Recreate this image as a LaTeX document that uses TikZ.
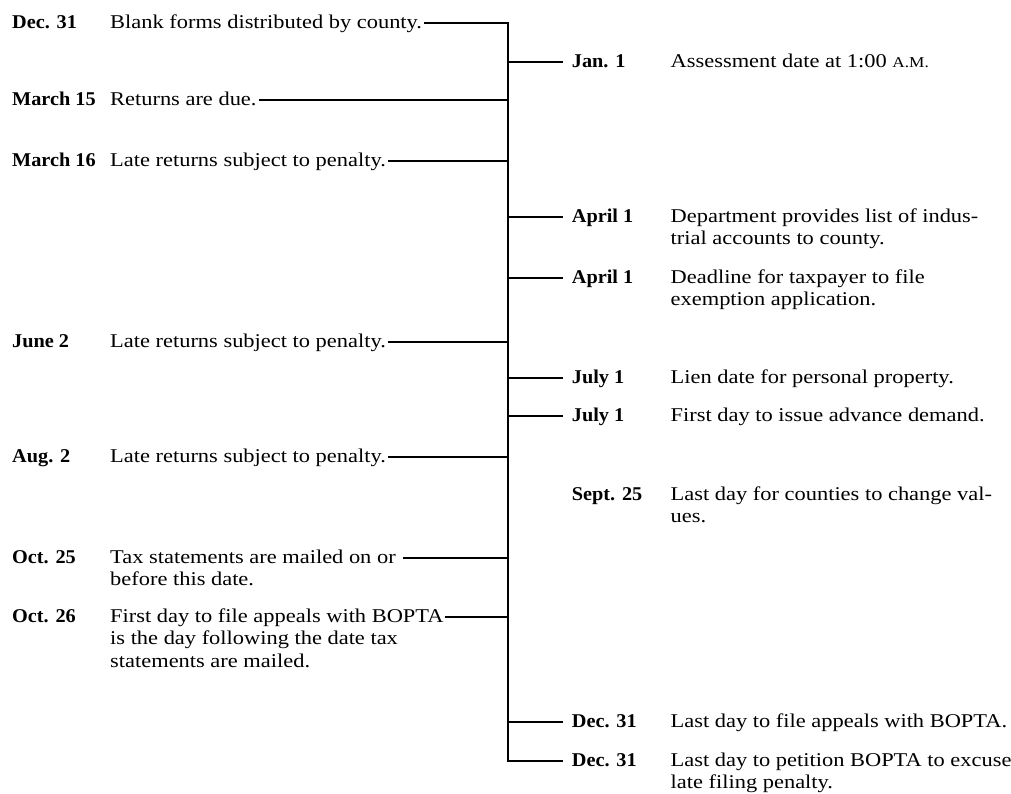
\documentclass[tikz,border=0pt]{standalone}
\usepackage{fontspec}
\setmainfont[FakeStretch=1.15]{Liberation Serif}
\newfontfamily\datefont[FakeStretch=1.04]{Liberation Serif}
\begin{document}
\begin{tikzpicture}[x=1pt,y=-1pt,
  txt/.style={anchor=west,inner sep=0pt,text height=14pt,text depth=4pt,font=\fontsize{19.5}{22.5}\selectfont},
  dt/.style={txt,font=\datefont\fontsize{19.5}{22.5}\selectfont\bfseries},
  conn/.style={line width=1.8pt,black}]
\useasboundingbox (0,0) rectangle (1011,793);
% left dates and texts
\node[dt]  (l1d) at (12,23) {Dec. 31};
\node[txt] (l1t) at (110,23) {Blank forms distributed by county.};
\node[dt]  (l2d) at (12,100) {March 15};
\node[txt] (l2t) at (110,100) {Returns are due.};
\node[dt]  (l3d) at (12,161) {March 16};
\node[txt] (l3t) at (110,161) {Late returns subject to penalty.};
\node[dt]  (l4d) at (12,342) {June 2};
\node[txt] (l4t) at (110,342) {Late returns subject to penalty.};
\node[dt]  (l5d) at (12,457) {Aug. 2};
\node[txt] (l5t) at (110,457) {Late returns subject to penalty.};
\node[dt]  (l6d) at (12,558) {Oct. 25};
\node[txt] (l6t) at (110,558) {Tax statements are mailed on or};
\node[txt] (l6u) at (110,580.5) {before this date.};
\node[dt]  (l7d) at (12,617) {Oct. 26};
\node[txt] (l7t) at (110,617) {First day to file appeals with BOPTA};
\node[txt] (l7u) at (110,639.5) {is the day following the date tax};
\node[txt] (l7v) at (110,662) {statements are mailed.};
% right dates and texts
\node[dt]  (r1d) at (571.7,62) {Jan. 1};
\node[txt] (r1t) at (670.5,62) {Assessment date at 1:00 {\fontsize{15}{22.5}\selectfont A.M.}};
\node[dt]  (r2d) at (571.7,217) {April 1};
\node[txt] (r2t) at (670.5,217) {Department provides list of indus-};
\node[txt] (r2u) at (670.5,239.5) {trial accounts to county.};
\node[dt]  (r3d) at (571.7,278) {April 1};
\node[txt] (r3t) at (670.5,278) {Deadline for taxpayer to file};
\node[txt] (r3u) at (670.5,300.5) {exemption application.};
\node[dt]  (r4d) at (571.7,378) {July 1};
\node[txt] (r4t) at (670.5,378) {Lien date for personal property.};
\node[dt]  (r5d) at (571.7,416) {July 1};
\node[txt] (r5t) at (670.5,416) {First day to issue advance demand.};
\node[dt]  (r6d) at (571.7,495) {Sept. 25};
\node[txt] (r6t) at (670.5,495) {Last day for counties to change val-};
\node[txt] (r6u) at (670.5,517.5) {ues.};
\node[dt]  (r7d) at (571.7,722) {Dec. 31};
\node[txt] (r7t) at (670.5,722) {Last day to file appeals with BOPTA.};
\node[dt]  (r8d) at (571.7,761) {Dec. 31};
\node[txt] (r8t) at (670.5,761) {Last day to petition BOPTA to excuse};
\node[txt] (r8u) at (670.5,783.5) {late filing penalty.};
% spine
\coordinate (top) at (508,23);
\coordinate (bot) at (508,761);
\draw[conn] ([xshift=2pt]l1t.east) -- (top) -- (bot) -- ([xshift=-9pt]r8d.west);
% left connectors
\draw[conn] ([xshift=2pt]l2t.east) -- (l2t.east -| top);
\draw[conn] ([xshift=2pt]l3t.east) -- (l3t.east -| top);
\draw[conn] ([xshift=2pt]l4t.east) -- (l4t.east -| top);
\draw[conn] ([xshift=2pt]l5t.east) -- (l5t.east -| top);
\draw[conn] ([xshift=7pt]l6t.east) -- (l6t.east -| top);
\draw[conn] ([xshift=1pt]l7t.east) -- (l7t.east -| top);
% right connectors
\draw[conn] (r1d.west -| top) -- ([xshift=-9pt]r1d.west);
\draw[conn] (r2d.west -| top) -- ([xshift=-9pt]r2d.west);
\draw[conn] (r3d.west -| top) -- ([xshift=-9pt]r3d.west);
\draw[conn] (r4d.west -| top) -- ([xshift=-9pt]r4d.west);
\draw[conn] (r5d.west -| top) -- ([xshift=-9pt]r5d.west);
\draw[conn] (r7d.west -| top) -- ([xshift=-9pt]r7d.west);
\end{tikzpicture}
\end{document}
